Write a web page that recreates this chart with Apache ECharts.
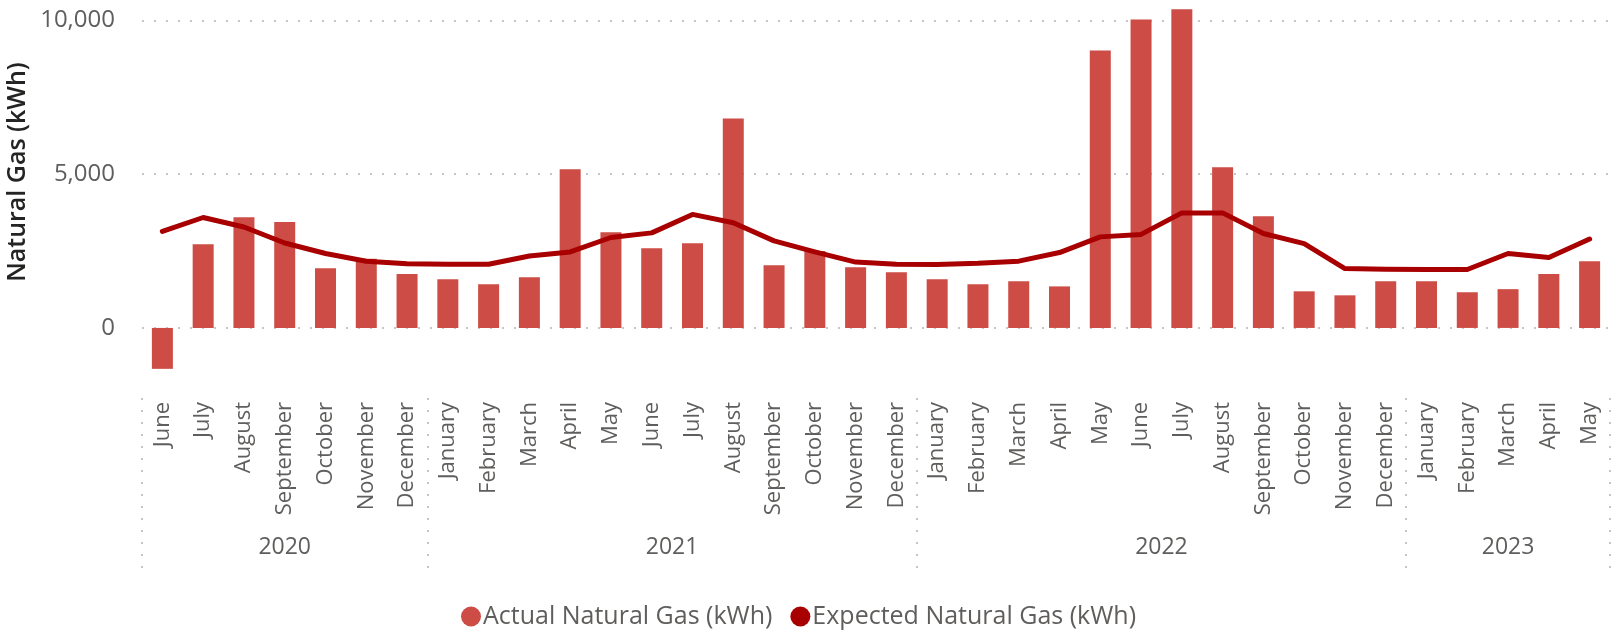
<!DOCTYPE html>
<html>
<head>
<meta charset="utf-8">
<script src="https://cdn.jsdelivr.net/npm/echarts@6/dist/echarts.min.js"></script>
<style>
  html, body { margin: 0; padding: 0; background: #fff; }
  #main { width: 1622px; height: 630px; }
</style>
</head>
<body>
<div id="main"></div>
<script>
// month categories, June 2020 .. May 2023
const months = ['June', 'July', 'August', 'September', 'October', 'November', 'December',
  'January', 'February', 'March', 'April', 'May', 'June', 'July', 'August', 'September', 'October', 'November', 'December',
  'January', 'February', 'March', 'April', 'May', 'June', 'July', 'August', 'September', 'October', 'November', 'December',
  'January', 'February', 'March', 'April', 'May'];
const years = ['2020', '2021', '2022', '2023'];
const monthsPerYear = [7, 12, 12, 5];

const actualGas = [-1330, 2720, 3600, 3440, 1940, 2250, 1750,
  1580, 1420, 1650, 5160, 3110, 2590, 2750, 6810, 2040, 2500, 1970, 1810,
  1580, 1420, 1520, 1350, 9020, 10030, 10360, 5220, 3630, 1190, 1060, 1520,
  1520, 1160, 1260, 1750, 2170];
const expectedGas = [3140, 3590, 3280, 2760, 2420, 2170, 2090,
  2070, 2070, 2340, 2470, 2940, 3090, 3690, 3420, 2830, 2470, 2140, 2070,
  2060, 2100, 2170, 2450, 2960, 3040, 3740, 3740, 3070, 2740, 1930, 1910,
  1900, 1900, 2420, 2290, 2890];
const yTicks = [0, 5000, 10000];

// year group boundaries and centres, in month units
const yearEdges = [0];
monthsPerYear.forEach(n => yearEdges.push(yearEdges[yearEdges.length - 1] + n));
const yearCenters = years.map((y, i) => (yearEdges[i] + yearEdges[i + 1]) / 2);

const font = '"Segoe UI", "Open Sans", sans-serif';
const grey = '#605E5C';

let myChart = echarts.init(document.getElementById('main'));
myChart.setOption({
  animation: false,
  textStyle: { fontFamily: font },
  grid: { left: 142, right: 12, top: 8, bottom: 259 },
  legend: {
    top: 599,
    left: 456,
    icon: 'circle',
    itemWidth: 20,
    itemHeight: 20,
    itemGap: 18,
    textStyle: { fontSize: 25, color: grey, fontFamily: font, padding: [0, 0, 0, -3] },
    data: ['Actual Natural Gas (kWh)', 'Expected Natural Gas (kWh)']
  },
  graphic: [{
    type: 'text',
    x: 18,
    y: 172,
    rotation: Math.PI / 2,
    style: {
      text: 'Natural Gas (kWh)',
      fontSize: 25,
      fontWeight: 600,
      fontFamily: font,
      fill: '#252423',
      align: 'center',
      verticalAlign: 'middle'
    }
  }],
  xAxis: [{
    type: 'category',
    data: months,
    axisLine: { show: false },
    axisTick: { show: false },
    axisLabel: {
      rotate: 90,
      interval: 0,
      margin: 31,
      fontSize: 22,
      color: grey
    }
  }, {
    type: 'value',
    position: 'bottom',
    min: 0,
    max: months.length,
    offset: 27,
    axisLine: { show: false },
    splitLine: { show: false },
    axisTick: {
      show: true,
      customValues: yearEdges,
      length: 170,
      lineStyle: { color: '#c8c6c4', width: 2, type: [2, 10] }
    },
    axisLabel: {
      customValues: yearCenters,
      margin: 138,
      fontSize: 23,
      color: grey,
      formatter: function (v) {
        return years[yearCenters.indexOf(v)] || '';
      }
    }
  }],
  yAxis: {
    type: 'value',
    min: -1400,
    max: 10400,
    axisLine: { show: false },
    axisTick: { show: false, customValues: yTicks },
    axisLabel: {
      customValues: yTicks,
      margin: 27,
      fontSize: 24,
      color: grey,
      formatter: v => v.toLocaleString('en-US')
    },
    splitLine: {
      show: true,
      lineStyle: { color: '#c8c6c4', width: 2, type: [2, 10] }
    }
  },
  series: [{
    name: 'Actual Natural Gas (kWh)',
    type: 'bar',
    barWidth: 21,
    itemStyle: { color: '#CD4C46' },
    data: actualGas
  }, {
    name: 'Expected Natural Gas (kWh)',
    type: 'line',
    symbol: 'none',
    itemStyle: { color: '#A80000' },
    lineStyle: { width: 5, color: '#A80000', cap: 'round', join: 'round' },
    data: expectedGas
  }]
});
</script>
</body>
</html>
